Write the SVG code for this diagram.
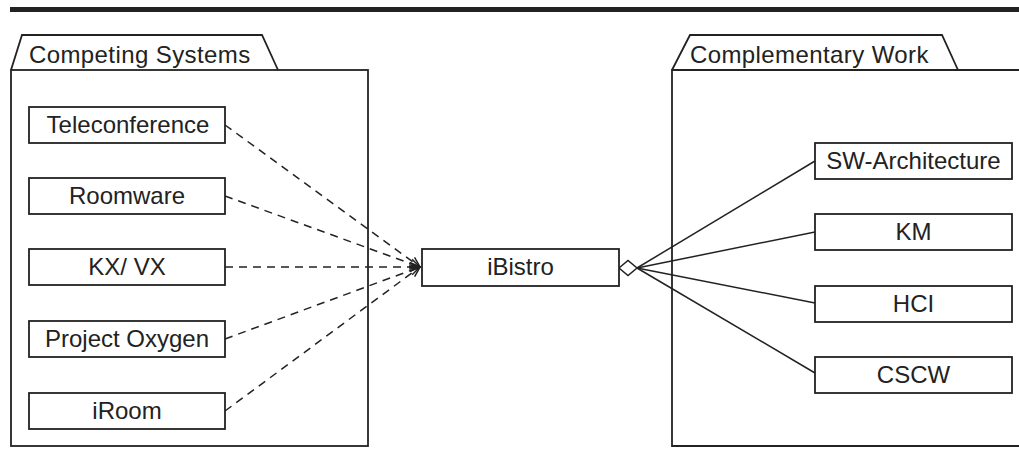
<svg xmlns="http://www.w3.org/2000/svg" width="1019" height="455" viewBox="0 0 1019 455">
  <style>
    text { font-family: "Liberation Sans", Arial, sans-serif; font-size: 24px; fill: #222; }
    .title { letter-spacing: 0.4px; }
    .box { fill: #fff; stroke: #222; stroke-width: 1.8; }
    .pkg { fill: none; stroke: #222; stroke-width: 1.8; }
    .dep { fill: none; stroke: #222; stroke-width: 1.5; stroke-dasharray: 8 6; }
    .agg { fill: none; stroke: #222; stroke-width: 1.5; }
  </style>
  <defs>
    <marker id="open-arrow" viewBox="0 0 12 12" refX="11" refY="6" markerWidth="12" markerHeight="12" markerUnits="userSpaceOnUse" orient="auto">
      <path d="M1,1.5 L11,6 L1,10.5" fill="none" stroke="#222" stroke-width="1.5"/>
    </marker>
  </defs>

  <!-- heading rule -->
  <rect x="10" y="7" width="1009" height="5" fill="#222"/>

  <!-- package: Competing Systems -->
  <g id="pkg-competing">
    <path class="pkg" d="M11,70 L22,35 L262,35 L278,70"/>
    <rect class="pkg" x="11" y="70" width="357" height="376"/>
    <text class="title" x="29" y="63">Competing Systems</text>
  </g>

  <!-- package: Complementary Work -->
  <g id="pkg-complementary">
    <path class="pkg" d="M672,70 L690,35 L942,35 L958,70"/>
    <path class="pkg" d="M1025,70 L672,70 L672,446 L1025,446"/>
    <text class="title" x="690" y="63">Complementary Work</text>
  </g>

  <!-- connectors -->
  <g id="connectors">
    <path class="dep" d="M225,125 L420,267" marker-end="url(#open-arrow)"/>
    <path class="dep" d="M225,196 L420,267" marker-end="url(#open-arrow)"/>
    <path class="dep" d="M225,267 L420,267" marker-end="url(#open-arrow)"/>
    <path class="dep" d="M225,339 L420,267" marker-end="url(#open-arrow)"/>
    <path class="dep" d="M225,411 L420,267" marker-end="url(#open-arrow)"/>
    <path class="agg" d="M637,268 L815,161"/>
    <path class="agg" d="M637,268 L815,232"/>
    <path class="agg" d="M637,268 L815,303"/>
    <path class="agg" d="M637,268 L815,373"/>
    <path d="M619,268 L628,260.5 L637,268 L628,275.5 Z" fill="#fff" stroke="#222" stroke-width="1.5"/>
  </g>

  <!-- competing systems -->
  <g id="teleconference">
    <rect class="box" x="29" y="107" width="196" height="36"/>
    <text x="128" y="133" text-anchor="middle">Teleconference</text>
  </g>
  <g id="roomware">
    <rect class="box" x="29" y="178" width="196" height="36"/>
    <text x="127" y="204" text-anchor="middle">Roomware</text>
  </g>
  <g id="kx-vx">
    <rect class="box" x="29" y="249" width="196" height="36"/>
    <text x="127" y="275" text-anchor="middle">KX/ VX</text>
  </g>
  <g id="project-oxygen">
    <rect class="box" x="29" y="321" width="196" height="36"/>
    <text x="127" y="347" text-anchor="middle">Project Oxygen</text>
  </g>
  <g id="iroom">
    <rect class="box" x="29" y="393" width="196" height="36"/>
    <text x="127" y="419" text-anchor="middle">iRoom</text>
  </g>

  <!-- central system -->
  <g id="ibistro">
    <rect class="box" x="422" y="249" width="197" height="37"/>
    <text x="520.5" y="275" text-anchor="middle">iBistro</text>
  </g>

  <!-- complementary work -->
  <g id="sw-architecture">
    <rect class="box" x="815" y="143" width="197" height="36"/>
    <text x="913.5" y="169" text-anchor="middle">SW-Architecture</text>
  </g>
  <g id="km">
    <rect class="box" x="815" y="214" width="197" height="36"/>
    <text x="913.5" y="240" text-anchor="middle">KM</text>
  </g>
  <g id="hci">
    <rect class="box" x="815" y="286" width="197" height="36"/>
    <text x="913.5" y="312" text-anchor="middle">HCI</text>
  </g>
  <g id="cscw">
    <rect class="box" x="815" y="357" width="197" height="36"/>
    <text x="913.5" y="383" text-anchor="middle">CSCW</text>
  </g>
</svg>
